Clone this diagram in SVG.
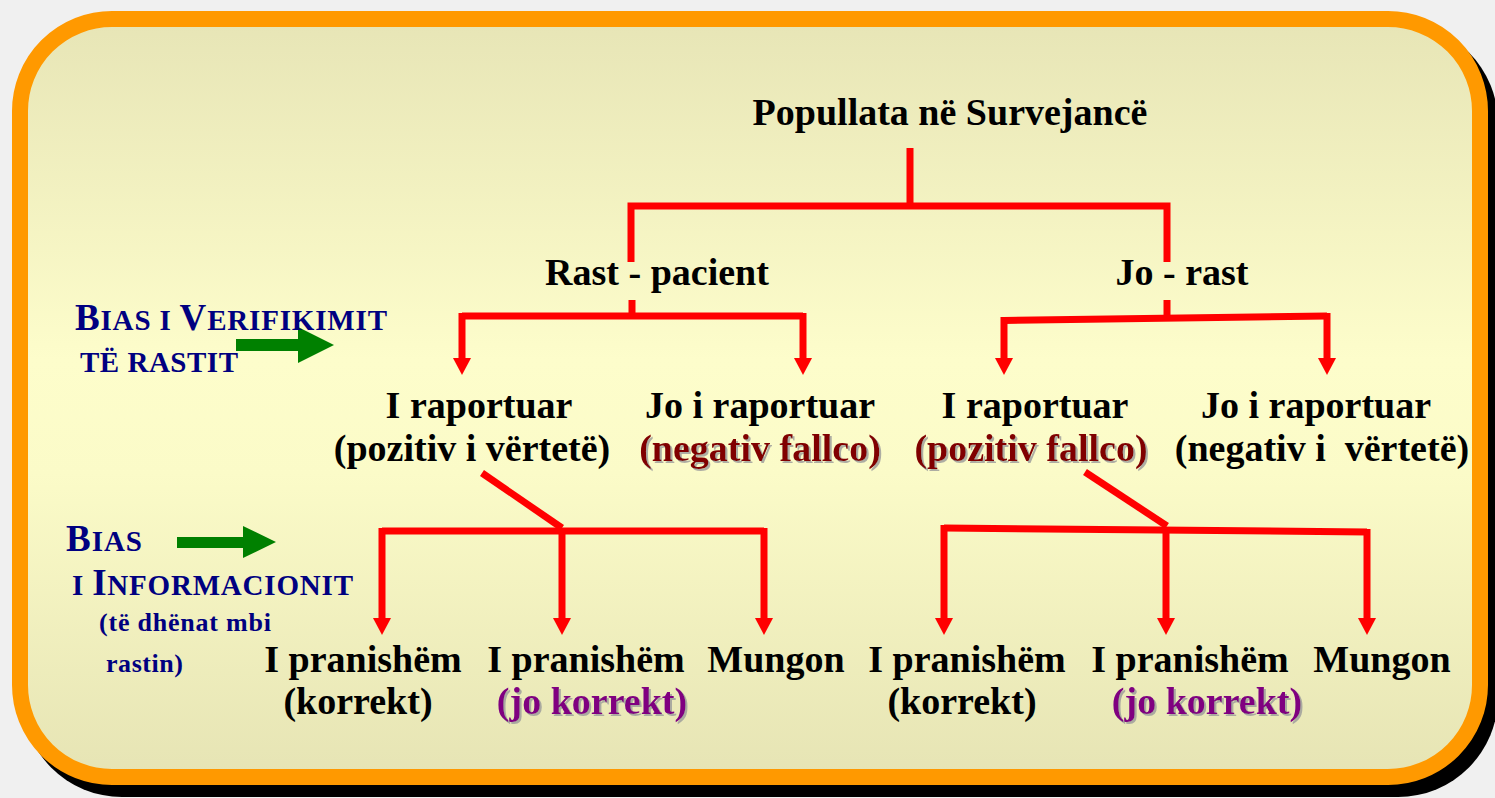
<svg xmlns="http://www.w3.org/2000/svg" width="1495" height="798" viewBox="0 0 1495 798">
<defs>
<linearGradient id="bg" x1="0" y1="0" x2="0" y2="1">
<stop offset="0" stop-color="#e7e5b6"/>
<stop offset="0.45" stop-color="#fdfdcb"/>
<stop offset="0.6" stop-color="#fbfbc8"/>
<stop offset="1" stop-color="#e6e4b4"/>
</linearGradient>
<marker id="ah" markerUnits="userSpaceOnUse" markerWidth="17" markerHeight="18" refX="0" refY="9" orient="auto" viewBox="0 0 17 18">
<path d="M0,0 L17,9 L0,18 z" fill="#ff0000"/>
</marker>
<filter id="ts" x="-5%" y="-20%" width="110%" height="140%">
<feGaussianBlur in="SourceAlpha" stdDeviation="0.6" result="b"/>
<feOffset in="b" dx="2" dy="2" result="o"/>
<feFlood flood-color="#9a9a9a" flood-opacity="0.8"/>
<feComposite in2="o" operator="in" result="s"/>
<feMerge><feMergeNode in="s"/><feMergeNode in="SourceGraphic"/></feMerge>
</filter>
</defs>
<style>
.t{font-family:"Liberation Serif","Times New Roman",serif;font-weight:bold;font-size:38px;fill:#000;text-anchor:middle;white-space:pre}
.dr{fill:#800000;filter:url(#ts)}
.pu{fill:#800080;filter:url(#ts)}
.lb{font-family:"Liberation Serif","Times New Roman",serif;font-weight:bold;fill:#000080}
.big{font-size:37px}
.sm{font-size:29px}
.c{fill:none;stroke:#ff0000;stroke-width:7;stroke-linejoin:miter}
.a{marker-end:url(#ah)}
.g{fill:#008000}
</style>
<rect width="1495" height="798" fill="#f0f0f0"/>
<rect x="22" y="23" width="1476" height="774" rx="100" fill="#000"/>
<rect x="20" y="19" width="1460" height="758" rx="92" fill="url(#bg)" stroke="#ff9900" stroke-width="16"/>

<g id="connectors">
<path class="c" d="M910,148 V206"/>
<path class="c" d="M631,262 V206 H1167 V262"/>
<path class="c" d="M632,300 V318"/>
<path class="c" d="M1167,300 V318"/>
<path class="c" d="M462,316 H803"/>
<path class="c a" d="M462,313 V358"/>
<path class="c a" d="M803,313 V358"/>
<path class="c" d="M1004,320.5 L1327,316"/>
<path class="c a" d="M1004,317 V358"/>
<path class="c a" d="M1327,313 V358"/>
<path class="c" d="M482,473 L562,528"/>
<path class="c" d="M382,531 H764"/>
<path class="c a" d="M382,528 V618"/>
<path class="c a" d="M562,531 V618"/>
<path class="c a" d="M764,528 V618"/>
<path class="c" d="M1085,472 L1167,526"/>
<path class="c" d="M944,528 L1367,532"/>
<path class="c a" d="M944,525 V618"/>
<path class="c a" d="M1166,530 V618"/>
<path class="c a" d="M1367,529 V618"/>
<polygon class="g" points="236,339 298,339 298,327 334,345 298,363 298,351 236,351"/>
<polygon class="g" points="177,537 243,537 243,526 276,542 243,558 243,548 177,548"/>
</g>

<g id="n-root"><text class="t" x="950" y="125">Popullata në Survejancë</text></g>
<g id="n-rast"><text class="t" x="657" y="285">Rast - pacient</text></g>
<g id="n-jorast"><text class="t" x="1182" y="285">Jo - rast</text></g>

<g id="n-l-rap"><text class="t" x="479" y="418">I raportuar</text><text class="t" x="472" y="461">(pozitiv i vërtetë)</text></g>
<g id="n-l-jorap"><text class="t" x="760" y="418">Jo i raportuar</text><text class="t dr" x="760" y="461">(negativ fallco)</text></g>
<g id="n-r-rap"><text class="t" x="1035" y="418">I raportuar</text><text class="t dr" x="1031" y="461">(pozitiv fallco)</text></g>
<g id="n-r-jorap"><text class="t" x="1316" y="418">Jo i raportuar</text><text class="t" x="1322" y="461" xml:space="preserve">(negativ i  vërtetë)</text></g>

<g id="n-l-prk"><text class="t" x="363" y="672">I pranishëm</text><text class="t" x="358" y="714">(korrekt)</text></g>
<g id="n-l-pjk"><text class="t" x="586" y="672">I pranishëm</text><text class="t pu" x="592" y="714">(jo korrekt)</text></g>
<g id="n-l-mun"><text class="t" x="776" y="672">Mungon</text></g>
<g id="n-r-prk"><text class="t" x="967" y="672">I pranishëm</text><text class="t" x="962" y="714">(korrekt)</text></g>
<g id="n-r-pjk"><text class="t" x="1190" y="672">I pranishëm</text><text class="t pu" x="1207" y="714">(jo korrekt)</text></g>
<g id="n-r-mun"><text class="t" x="1382" y="672">Mungon</text></g>

<g id="label-verif">
<text class="lb" x="75" y="330" textLength="312" lengthAdjust="spacing"><tspan class="big">B</tspan><tspan class="sm">IAS I </tspan><tspan class="big">V</tspan><tspan class="sm">ERIFIKIMIT</tspan></text>
<text class="lb sm" x="80" y="372" textLength="158" lengthAdjust="spacing">TË RASTIT</text>
</g>
<g id="label-info">
<text class="lb" x="66" y="551" textLength="76" lengthAdjust="spacing"><tspan class="big">B</tspan><tspan class="sm">IAS</tspan></text>
<text class="lb" x="72" y="595" textLength="281" lengthAdjust="spacing"><tspan class="sm">I </tspan><tspan class="big">I</tspan><tspan class="sm">NFORMACIONIT</tspan></text>
<text class="lb" x="99" y="631" font-size="26" textLength="172" lengthAdjust="spacing">(të dhënat mbi</text>
<text class="lb" x="106" y="672" font-size="26" textLength="77" lengthAdjust="spacing">rastin)</text>
</g>
</svg>
